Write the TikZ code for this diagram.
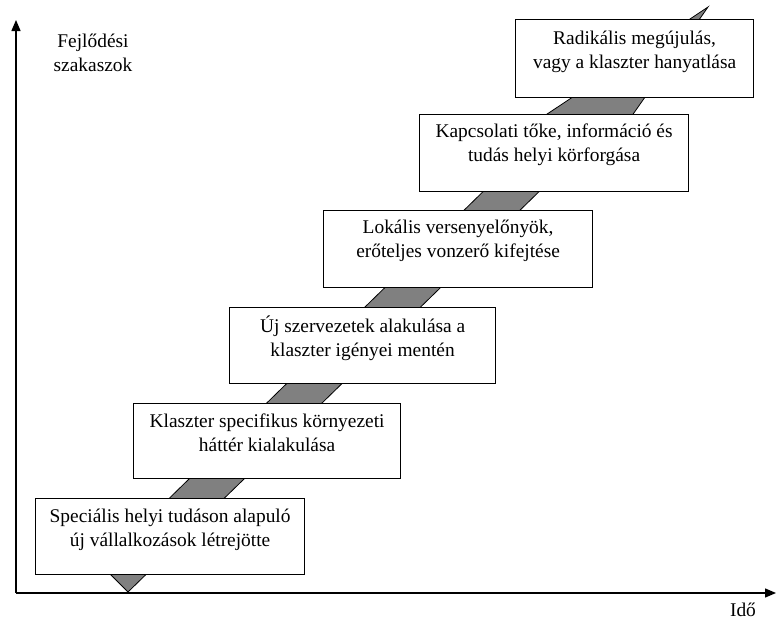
\documentclass[tikz,border=0pt]{standalone}
\usepackage{fontspec}
\setmainfont{Liberation Serif}
\usepackage{xcolor}
\definecolor{band-grey}{HTML}{808080}
\usetikzlibrary{arrows.meta}

\begin{document}
\begin{tikzpicture}[x=1pt, y=-1pt,
    stage/.style={draw=black, line width=1.2pt, fill=white, inner sep=0pt, anchor=north west},
    caption/.style={align=center, font=\fontsize{19.4}{24}\selectfont},
    axis/.style={line width=1.4pt, -{Triangle[length=11pt, width=9pt]}}]

    % Canvas
    \useasboundingbox (0, 0) rectangle (776, 621);

    % Axes
    \coordinate (origin) at (16, 593);
    \coordinate (ytip) at (16, 20);
    \coordinate (xtip) at (776, 593);
    \draw[axis] (origin) -- (ytip);
    \draw[axis] (origin) -- (xtip);

    \node[caption] (ylabel) at (93, 53) {Fejlődési\\szakaszok};
    \node[caption] (xlabel) at (743, 610) {Idő};

    % Diagonal band
    \fill[band-grey, draw=black, line width=0.8pt]
        (128, 592) -- (101, 565) -- (497, 178) -- (448, 180) -- (708, 7)
        -- (587, 180) -- (551, 180) -- cycle;

    % Stages
    \node[stage, minimum width=269pt, minimum height=76pt] (s1) at (35, 498) {};
    \node[stage, minimum width=267pt, minimum height=75pt] (s2) at (133, 403) {};
    \node[stage, minimum width=266pt, minimum height=76pt] (s3) at (229, 307) {};
    \node[stage, minimum width=269pt, minimum height=77pt] (s4) at (323, 210) {};
    \node[stage, minimum width=269pt, minimum height=77pt] (s5) at (419, 114) {};
    \node[stage, minimum width=238pt, minimum height=78pt] (s6) at (515, 19) {};

    \node[caption] (t1) at ([yshift=-32pt]s1.north) {Speciális helyi tudáson alapuló\\új vállalkozások létrejötte};
    \node[caption] (t2) at ([yshift=-30pt]s2.north) {Klaszter specifikus környezeti\\háttér kialakulása};
    \node[caption] (t3) at ([yshift=-31pt]s3.north) {Új szervezetek alakulása a\\klaszter igényei mentén};
    \node[caption] (t4) at ([yshift=-31pt]s4.north) {Lokális versenyelőnyök,\\erőteljes vonzerő kifejtése};
    \node[caption] (t5) at ([yshift=-31pt]s5.north) {Kapcsolati tőke, információ és\\tudás helyi körforgása};
    \node[caption] (t6) at ([yshift=-33pt]s6.north) {Radikális megújulás,\\vagy a klaszter hanyatlása};

\end{tikzpicture}
\end{document}
